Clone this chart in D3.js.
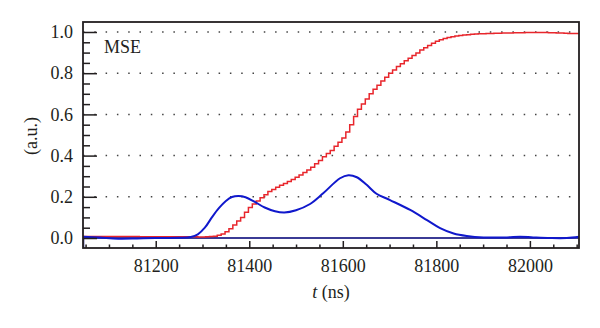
<!DOCTYPE html>
<html>
<head>
<meta charset="utf-8">
<script src="https://cdn.jsdelivr.net/npm/d3@7"></script>
<style>
  body { margin: 0; background: #fff; }
  svg { display: block; }
  svg text { font-family: "Liberation Serif", "Times New Roman", Tinos, "DejaVu Serif", "Noto Serif", serif; fill: #231f20; }
</style>
</head>
<body>
<div id="chart"></div>
<script>
// red step series, sampled every redDt ns starting at redT0
const redT0 = 81040;
const redDt = 8.33;
const redValues = [
  0.007, 0.007, 0.007, 0.007, 0.007, 0.007, 0.007, 0.007, 0.007, 0.007,
  0.007, 0.007, 0.007, 0.007, 0.007, 0.006, 0.006, 0.006, 0.006, 0.006,
  0.006, 0.006, 0.006, 0.006, 0.006, 0.006, 0.006, 0.006, 0.006, 0.006,
  0.005, 0.005, 0.006, 0.007, 0.009, 0.013, 0.02, 0.03, 0.045, 0.063,
  0.082, 0.10, 0.125, 0.148, 0.165, 0.18, 0.195, 0.21, 0.226, 0.236,
  0.246, 0.256, 0.265, 0.274, 0.284, 0.295, 0.306, 0.318, 0.33, 0.344,
  0.36, 0.376, 0.395, 0.41, 0.425, 0.445, 0.465, 0.485, 0.515, 0.55,
  0.59, 0.625, 0.65, 0.675, 0.70, 0.722, 0.742, 0.762, 0.78, 0.80,
  0.815, 0.832, 0.846, 0.86, 0.873, 0.886, 0.898, 0.912, 0.924, 0.935,
  0.945, 0.955, 0.962, 0.968, 0.973, 0.977, 0.980, 0.983, 0.985, 0.987,
  0.989, 0.990, 0.991, 0.992, 0.993, 0.993, 0.994, 0.994, 0.995, 0.995,
  0.995, 0.996, 0.996, 0.996, 0.997, 0.997, 0.997, 0.997, 0.997, 0.997,
  0.996, 0.996, 0.995, 0.995, 0.994, 0.993, 0.993, 0.993, 0.993
];

// blue smooth curve
const blueTimes = [
  81045, 81080, 81120, 81160, 81200, 81250, 81275, 81290, 81305, 81320,
  81335, 81350, 81363, 81377, 81392, 81412, 81433, 81455, 81475, 81500,
  81530, 81558, 81594, 81612, 81630, 81651, 81672, 81701, 81744, 81780,
  81808, 81837, 81865, 81901, 81951, 81979, 82007, 82043, 82079, 82105
];
const blueValues = [
  0.006, 0.002, -0.003, -0.002, 0.0, 0.001, 0.005, 0.018, 0.05, 0.1,
  0.145, 0.18, 0.199, 0.204, 0.198, 0.175, 0.148, 0.13, 0.124, 0.135,
  0.165, 0.217, 0.29, 0.305, 0.295, 0.258, 0.215, 0.184, 0.136, 0.087,
  0.048, 0.022, 0.010, 0.003, 0.003, 0.006, 0.003, 0.0, 0.0, 0.006
];

// dark baseline (starts below the axis at the left edge)
const baseTimes = [81045, 81045, 82105];
const baseValues = [-0.06, 0, 0];

const xMajorTicks = [81200, 81400, 81600, 81800, 82000];
const xMinorTicks = [81050, 81100, 81150, 81250, 81300, 81350, 81450, 81500, 81550,
  81650, 81700, 81750, 81850, 81900, 81950, 82050, 82100];
const yMajorTicks = [0, 0.2, 0.4, 0.6, 0.8, 1.0];
const yMinorTicks = [0.05, 0.1, 0.15, 0.25, 0.3, 0.35, 0.45, 0.5, 0.55,
  0.65, 0.7, 0.75, 0.85, 0.9, 0.95];
const gridValues = [0.2, 0.4, 0.6, 0.8, 1.0];

const width = 600;
const height = 328;
const margin = { top: 22, right: 21, bottom: 80, left: 83 };

const svg = d3.select("#chart")
  .append("svg")
  .attr("width", width)
  .attr("height", height);

const x = d3.scaleLinear()
  .domain([81044.5, 82105])
  .range([margin.left, width - margin.right]);

const y = d3.scaleLinear()
  .domain([-0.0485, 1.0485])
  .range([height - margin.bottom, margin.top]);

svg.append("clipPath")
  .attr("id", "plot-clip")
  .append("rect")
  .attr("x", margin.left)
  .attr("y", margin.top)
  .attr("width", width - margin.left - margin.right)
  .attr("height", height - margin.top - margin.bottom);

// dotted grid
svg.append("g")
  .selectAll("line")
  .data(gridValues)
  .join("line")
  .attr("x1", margin.left)
  .attr("x2", width - margin.right)
  .attr("y1", (d) => y(d))
  .attr("y2", (d) => y(d))
  .attr("stroke", "#444")
  .attr("stroke-width", 1.5)
  .attr("stroke-dasharray", "1.5,9.8");

const plot = svg.append("g").attr("clip-path", "url(#plot-clip)");

const baseLine = d3.line()
  .x((d, i) => x(baseTimes[i]))
  .y((d) => y(d));

plot.append("path")
  .datum(baseValues)
  .attr("d", baseLine)
  .attr("fill", "none")
  .attr("stroke", "#3b3b95")
  .attr("stroke-width", 2.2);

const redLine = d3.line()
  .x((d, i) => x(redT0 + i * redDt))
  .y((d) => y(d))
  .curve(d3.curveStepAfter);

plot.append("path")
  .datum(redValues)
  .attr("d", redLine)
  .attr("fill", "none")
  .attr("stroke", "#e8262c")
  .attr("stroke-width", 1.5);

const blueLine = d3.line()
  .x((d, i) => x(blueTimes[i]))
  .y((d) => y(d))
  .curve(d3.curveCatmullRom.alpha(0.5));

plot.append("path")
  .datum(blueValues)
  .attr("d", blueLine)
  .attr("fill", "none")
  .attr("stroke", "#1018cc")
  .attr("stroke-width", 2);

// axes, ticks point inward
const xAxis = svg.append("g")
  .attr("transform", `translate(0,${height - margin.bottom})`)
  .call(d3.axisBottom(x).tickValues(xMajorTicks).tickFormat(d3.format("d"))
    .tickSizeInner(-7).tickSizeOuter(0).tickPadding(11.5));

svg.append("g")
  .attr("transform", `translate(0,${height - margin.bottom})`)
  .call(d3.axisBottom(x).tickValues(xMinorTicks).tickFormat("")
    .tickSizeInner(-3.5).tickSizeOuter(0))
  .call((g) => g.select(".domain").remove());

const yAxis = svg.append("g")
  .attr("transform", `translate(${margin.left},0)`)
  .call(d3.axisLeft(y).tickValues(yMajorTicks).tickFormat(d3.format(".1f"))
    .tickSizeInner(-14).tickSizeOuter(0).tickPadding(10));

svg.append("g")
  .attr("transform", `translate(${margin.left},0)`)
  .call(d3.axisLeft(y).tickValues(yMinorTicks).tickFormat("")
    .tickSizeInner(-7).tickSizeOuter(0))
  .call((g) => g.select(".domain").remove());

svg.selectAll("g").attr("font-family", null);
svg.selectAll(".tick line").attr("stroke", "#231f20").attr("stroke-width", 1.5);
xAxis.selectAll("text").style("font-size", "18px").attr("fill", "#231f20");
yAxis.selectAll("text").style("font-size", "18px").attr("fill", "#231f20");
xAxis.select(".domain").remove();
yAxis.select(".domain").remove();

// frame
svg.append("rect")
  .attr("x", margin.left)
  .attr("y", margin.top)
  .attr("width", width - margin.left - margin.right)
  .attr("height", height - margin.top - margin.bottom)
  .attr("fill", "none")
  .attr("stroke", "#231f20")
  .attr("stroke-width", 1.8);

// labels
svg.append("text")
  .attr("x", 104)
  .attr("y", 53)
  .style("font-size", "18px")
  .text("MSE");

svg.append("text")
  .attr("transform", "translate(37,136) rotate(-90)")
  .attr("text-anchor", "middle")
  .style("font-size", "18px")
  .text("(a.u.)");

const xTitle = svg.append("text")
  .attr("x", 331)
  .attr("y", 298)
  .attr("text-anchor", "middle")
  .style("font-size", "18px");
xTitle.append("tspan").style("font-style", "italic").text("t");
xTitle.append("tspan").text(" (ns)");
</script>
</body>
</html>
